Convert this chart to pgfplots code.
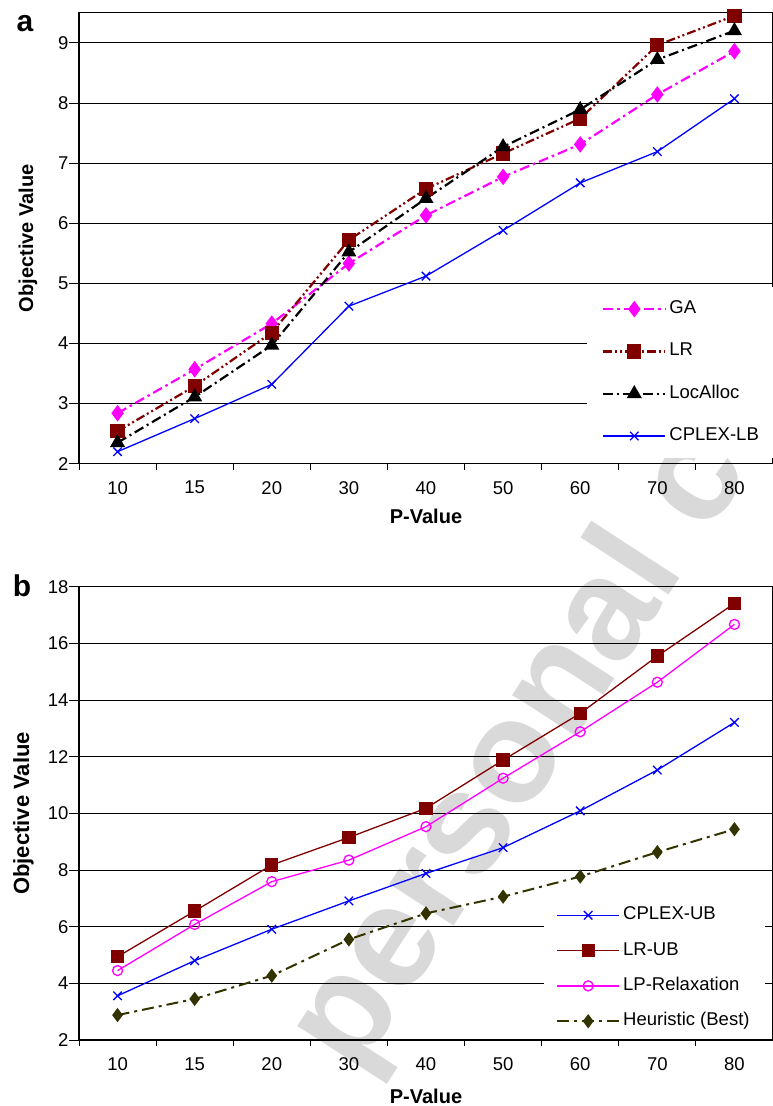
\documentclass[border=0pt]{standalone}
\usepackage{fontspec}
\setmainfont{Liberation Sans}
\usepackage{pgfplots}
\pgfplotsset{compat=1.18}
\definecolor{lrred}{HTML}{800000}
\definecolor{olv}{HTML}{333300}
\definecolor{mag}{HTML}{FF00FF}
\definecolor{cpx}{HTML}{0000FF}
\pgfplotsset{
  common/.style={
    scale only axis, width=694pt,
    xmin=-0.5, xmax=8.5,
    xtick={0,...,8},
    xticklabels={10,15,20,30,40,50,60,70,80},
    minor xtick={-0.5,0.5,...,8.5},
    major x tick style={draw=none},
    tick align=outside, tick pos=left,
    major tick length=10pt, minor tick length=6pt,
    tick style={black, line width=0.8pt},
    ymajorgrids, grid style={black, line width=0.8pt},
    axis line style={black, line width=1.2pt},
    /pgf/number format/assume math mode=true,
    ticklabel style={font=\fontsize{18.5}{22}\selectfont},
    xticklabel style={yshift=-4pt},
    yticklabel style={xshift=3pt},
    clip=false,
    legend cell align=left,
    legend image code/.code={\draw[mark repeat=2,mark phase=2] plot coordinates {(0pt,0pt) (31pt,0pt) (62pt,0pt)};},
  }
}
\begin{document}
\begin{tikzpicture}
\useasboundingbox (0pt,0pt) rectangle (773pt,-1106pt);
\node[rotate=57, anchor=base west, text=black!15, font=\fontsize{145}{145}\selectfont\bfseries, inner sep=0pt] at (356pt,-1077pt) {personal copy};
\node[anchor=base, font=\fontsize{30}{30}\selectfont\bfseries] at (25pt,-31.7pt) {a};
\node[anchor=base, font=\fontsize{30}{30}\selectfont\bfseries] at (22pt,-596.7pt) {b};

\begin{axis}[common, at={(79pt,-463.7pt)}, anchor=south west, height=451pt,
  ymin=2, ymax=9.5, ytick={2,...,9},
  xlabel={P-Value}, ylabel={Objective Value},
  every axis x label/.style={at={(axis description cs:0.5,0)}, anchor=center, yshift=-53pt, font=\fontsize{20}{24}\selectfont\bfseries},
  every axis y label/.style={at={(axis description cs:0,0.5)}, anchor=center, xshift=-51pt, rotate=90, font=\fontsize{20}{24}\selectfont\bfseries},
  legend style={at={(0.732,0.392)}, anchor=north west, draw=none, fill=white,
    font=\fontsize{18.5}{22}\selectfont, inner xsep=15pt, inner ysep=10.5pt, row sep=19.3pt,
    nodes={inner sep=3pt, text height=13pt, text depth=4pt}},
]
\addplot[mag, line width=2.2pt, dash pattern=on 10pt off 4pt on 2.5pt off 4pt, mark=diamond*, mark size=6.5pt, mark options={solid}]
  coordinates {(0,2.84) (1,3.57) (2,4.33) (3,5.33) (4,6.13) (5,6.77) (6,7.31) (7,8.14) (8,8.86)};
\addlegendentry{GA}
\addplot[lrred, line width=2.2pt, dash pattern=on 9pt off 3pt on 2pt off 3pt on 2pt off 3pt, mark=square*, mark size=6pt, mark options={solid}]
  coordinates {(0,2.54) (1,3.29) (2,4.18) (3,5.72) (4,6.57) (5,7.16) (6,7.74) (7,8.96) (8,9.45)};
\addlegendentry{LR}
\addplot[black, line width=2.2pt, dash pattern=on 10pt off 4pt on 2pt off 4pt, mark=triangle*, mark size=6.5pt, mark options={solid}]
  coordinates {(0,2.35) (1,3.11) (2,3.97) (3,5.52) (4,6.41) (5,7.27) (6,7.89) (7,8.72) (8,9.20)};
\addlegendentry{LocAlloc}
\addplot[cpx, line width=1.3pt, mark=x, mark size=6pt]
  coordinates {(0,2.20) (1,2.75) (2,3.32) (3,4.62) (4,5.12) (5,5.88) (6,6.67) (7,7.19) (8,8.07)};
\addlegendentry{CPLEX-LB}
\end{axis}

\begin{axis}[common, at={(79pt,-1040pt)}, anchor=south west, height=453.3pt,
  ymin=2, ymax=18, ytick={2,4,...,18},
  xlabel={P-Value}, ylabel={Objective Value},
  every axis x label/.style={at={(axis description cs:0.5,0)}, anchor=center, yshift=-56pt, font=\fontsize{20}{24}\selectfont\bfseries},
  every axis y label/.style={at={(axis description cs:0,0.5)}, anchor=center, xshift=-55.5pt, rotate=90, font=\fontsize{22}{26}\selectfont\bfseries},
  legend style={at={(0.670,0.312)}, anchor=north west, draw=none, fill=white,
    font=\fontsize{18.5}{22}\selectfont, inner xsep=12pt, inner ysep=5pt, row sep=12.3pt,
    nodes={inner sep=3pt, text height=13pt, text depth=4pt}},
]
\addplot[cpx, line width=1.3pt, mark=x, mark size=6pt]
  coordinates {(0,3.56) (1,4.80) (2,5.91) (3,6.91) (4,7.88) (5,8.79) (6,10.09) (7,11.53) (8,13.21)};
\addlegendentry{CPLEX-UB}
\addplot[lrred, line width=1.3pt, mark=square*, mark size=6pt]
  coordinates {(0,4.94) (1,6.55) (2,8.18) (3,9.15) (4,10.18) (5,11.88) (6,13.53) (7,15.55) (8,17.41)};
\addlegendentry{LR-UB}
\addplot[mag, line width=1.3pt, mark=o, mark size=5pt]
  coordinates {(0,4.45) (1,6.08) (2,7.59) (3,8.35) (4,9.53) (5,11.24) (6,12.88) (7,14.63) (8,16.67)};
\addlegendentry{LP-Relaxation}
\addplot[olv, line width=2pt, dash pattern=on 12pt off 5pt on 3pt off 5pt, mark=diamond*, mark size=5.5pt, mark options={solid}]
  coordinates {(0,2.88) (1,3.45) (2,4.27) (3,5.55) (4,6.47) (5,7.06) (6,7.77) (7,8.63) (8,9.44)};
\addlegendentry{Heuristic (Best)}
\end{axis}
\end{tikzpicture}
\end{document}
